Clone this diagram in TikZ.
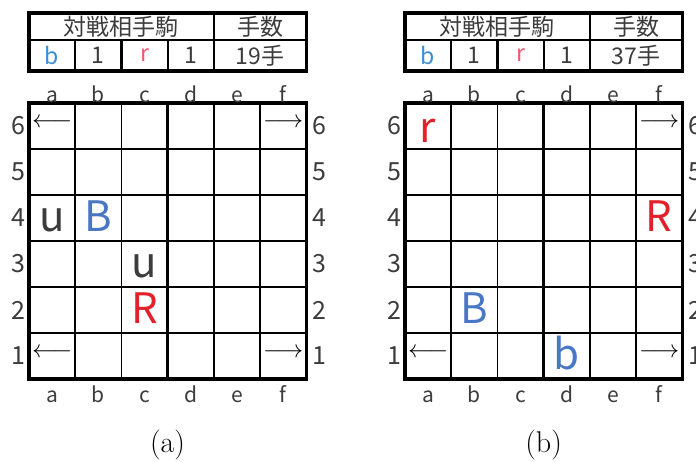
\documentclass[tikz,border=0pt]{standalone}
\usepackage{fontspec}
\newfontfamily\jpfont{Noto Sans CJK JP}
\usetikzlibrary{positioning}
\definecolor{piecered}{HTML}{E3212B}
\definecolor{pieceblue}{HTML}{4A76C6}
\definecolor{headblue}{HTML}{3A8FD4}
\definecolor{headred}{HTML}{EE5A72}
\definecolor{labelgray}{HTML}{3C3C3C}

\begin{document}
\begin{tikzpicture}[
    x=1pt, y=-1pt,
    boardcells/.style={x=46.2pt, y=-46pt},
    thinline/.style={line width=1.6pt},
    thickline/.style={line width=3.2pt},
    headline/.style={line width=2.2pt},
    headtext/.style={font=\jpfont\fontsize{23}{23}\selectfont, text=labelgray, inner sep=0pt},
    filelabel/.style={font=\jpfont\fontsize{21}{21}\selectfont, text=labelgray, inner sep=0pt, anchor=base},
    ranklabel/.style={font=\jpfont\fontsize{25}{25}\selectfont, text=labelgray, inner sep=0pt},
    piece/.style={font=\jpfont\fontsize{42}{42}\selectfont, inner sep=0pt, anchor=base, yshift=10pt},
    edgearrow/.style={font=\fontsize{23}{23}\selectfont, inner sep=0pt, yshift=3pt},
    caption/.style={font=\fontsize{30}{30}\selectfont, inner sep=0pt, anchor=base}
  ]
  \useasboundingbox (0,0) rectangle (696,461);

  \foreach \bx/\tag/\moves in {29/a/19, 405/b/37} {
    % Header table
    \begin{scope}[shift={(\bx,0)}, x=46.2pt]
      \draw[headline] (1,40) -- (1,71) (2,40) -- (2,71) (3,40) -- (3,71) (4,13) -- (4,71) (0,40) -- (6,40);
      \draw[thickline] (0,13) rectangle (6,71);
      \node[headtext] (title-\tag) at (2,26.5) {対戦相手駒};
      \node[headtext] (count-\tag) at (5,26.5) {手数};
      \node[headtext, text=headblue] (blue-\tag) at (0.5,55.5) {b};
      \node[headtext] (bluenum-\tag) at (1.5,55.5) {1};
      \node[headtext, text=headred] (red-\tag) at (2.5,55.5) {r};
      \node[headtext] (rednum-\tag) at (3.5,55.5) {1};
      \node[headtext] (moves-\tag) at (5,55.5) {\moves 手};
    \end{scope}

    % Board
    \begin{scope}[shift={(\bx,103)}, boardcells]
      \foreach \i in {1,2,4,5} \draw[thinline] (\i,0) -- (\i,6);
      \foreach \j in {1,...,5} \draw[thinline] (0,\j) -- (6,\j);
      \draw[thickline] (3,0) -- (3,6);
      \draw[thickline] (0,0) rectangle (6,6);
      \foreach \f [count=\c] in {a,b,c,d,e,f} {
        \node[filelabel, yshift=1pt] (top-\f-\tag) at (\c-0.5,0) {\f};
        \node[filelabel] (bottom-\f-\tag) at (\c-0.5,6.5) {\f};
      }
      \foreach \r in {1,...,6} {
        \node[ranklabel] (left-\r-\tag) at (-0.23,6.5-\r) {\r};
        \node[ranklabel] (right-\r-\tag) at (6.28,6.5-\r) {\r};
      }
      \node[edgearrow] (arrow-f6-\tag) at (5.5,0.5) {$\longrightarrow$};
      \node[edgearrow] (arrow-a1-\tag) at (0.5,5.5) {$\longleftarrow$};
      \node[edgearrow] (arrow-f1-\tag) at (5.5,5.5) {$\longrightarrow$};
      \node[caption] (caption-\tag) at (3,7.6) {(\tag)};
    \end{scope}
  }

  % Pieces (a)
  \begin{scope}[shift={(29,103)}, boardcells]
    \node[edgearrow] (arrow-a6-a) at (0.5,0.5) {$\longleftarrow$};
    \node[piece, text=labelgray] (u-a4) at (0.5,3) {u};
    \node[piece, text=pieceblue] (B-b4) at (1.5,3) {B};
    \node[piece, text=labelgray] (u-c3) at (2.5,4) {u};
    \node[piece, text=piecered] (R-c2) at (2.5,5) {R};
  \end{scope}

  % Pieces (b)
  \begin{scope}[shift={(405,103)}, boardcells]
    \node[piece, text=piecered] (r-a6) at (0.5,1.08) {r};
    \node[piece, text=piecered] (R-f4) at (5.5,3) {R};
    \node[piece, text=pieceblue] (B-b2) at (1.5,5) {B};
    \node[piece, text=pieceblue] (b-d1) at (3.5,6) {b};
  \end{scope}
\end{tikzpicture}
\end{document}
